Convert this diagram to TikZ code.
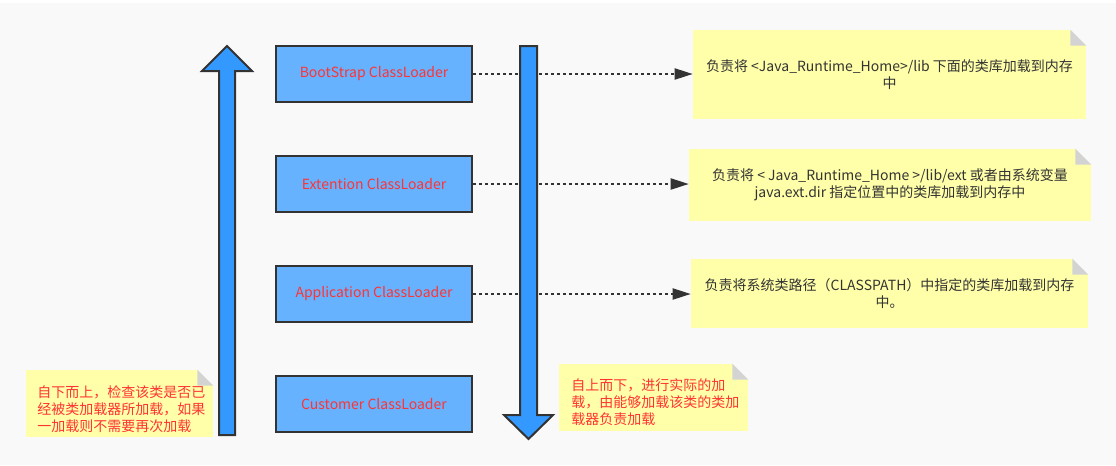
\documentclass[tikz,border=0pt]{standalone}
\usepackage{fontspec}
\setmainfont{Noto Sans CJK SC}
\usepackage{xcolor}
\usepackage{tikz}
\usetikzlibrary{positioning,arrows.meta}

\definecolor{bgcol}{HTML}{F9F9F9}
\definecolor{boxblue}{HTML}{66B2FF}
\definecolor{arrowblue}{HTML}{3399FF}
\definecolor{edgecol}{HTML}{333333}
\definecolor{txtred}{HTML}{FF3333}
\definecolor{notey}{HTML}{FFFFAA}
\definecolor{foldcol}{HTML}{D3D3D3}

\tikzset{
  loader/.style={draw=edgecol, line width=1.5pt, fill=boxblue, rectangle, minimum width=147pt, minimum height=42pt, text=txtred},
  note/.style={fill=notey, rectangle, inner sep=0pt, text=edgecol, align=center},
  notetext/.style={text=txtred, align=left, inner sep=0pt},
  link/.style={draw=edgecol, line width=1.5pt, dash pattern=on 2.25pt off 2.25pt, -{Triangle[length=13.5pt,width=8.25pt]}},
  blockarrow/.style={draw=edgecol, line width=1.5pt, fill=arrowblue, line join=miter}
}

\begin{document}
\begin{tikzpicture}[x=0.75pt, y=-0.75pt, every node/.style={font=\fontsize{10.5pt}{12.75pt}\selectfont}]
            \fill[white] (0,0) rectangle (1116,465);
            \fill[bgcol] (0,3) rectangle (1116,465);
            \useasboundingbox (0,0) rectangle (1116,465);

            \node (boot) [loader] at (374,74) {BootStrap ClassLoader};
            \node (ext) [loader, below=39pt of boot] {Extention ClassLoader};
            \node (app) [loader, below=39pt of ext] {Application ClassLoader};
            \node (cust) [loader, below=39pt of app] {Customer ClassLoader};

            \node (d1) [note, minimum width=294.75pt, minimum height=66.75pt] at (889.5,74.5) {负责将 <Java\_Runtime\_Home>/lib 下面的类库加载到内存\\中};
            \node (d2) [note, minimum width=301.5pt, minimum height=54pt] at (890,185) {负责将 < Java\_Runtime\_Home >/lib/ext 或者由系统变量\\java.ext.dir 指定位置中的类库加载到内存中};
            \node (d3) [note, minimum width=297.75pt, minimum height=51.75pt] at (889.5,293.5) {负责将系统类路径（CLASSPATH）中指定的类库加载到内存\\中。};

            \node (upnote) [note, minimum width=140.25pt, minimum height=50.25pt] at (119.5,403.5) {};
            \node (uptext) [notetext, anchor=west] at (37,409) {自下而上，检查该类是否已\\经被类加载器所加载，如果\\一加载则不需要再次加载};
            \node (downnote) [note, minimum width=141.75pt, minimum height=50.25pt] at (653.5,397.5) {};
            \node (downtext) [notetext, anchor=west] at (571,402) {自上而下，进行实际的加\\载，由能够加载该类的类加\\载器负责加载};

            \draw[link] (boot.east) -- (boot.east -| d1.west);
            \draw[link] (ext.east) -- (ext.east -| d2.west);
            \draw[link] (app.east) -- (app.east -| d3.west);

            \draw[blockarrow] (219,435) -- (219,71) -- (202,71) -- (227,46) -- (252,71) -- (235,71) -- (235,435) -- cycle;
            \draw[blockarrow] (520,46) -- (520,415) -- (504,415) -- (528.5,439) -- (553,415) -- (537,415) -- (537,46) -- cycle;

            \foreach \n in {d1,d2,d3,upnote,downnote} {
                \fill[bgcol] (\n.north east) -- ([xshift=-12pt]\n.north east) -- ([yshift=-12pt]\n.north east) -- cycle;
                \fill[foldcol] ([xshift=-12pt]\n.north east) -- ([xshift=-12pt,yshift=-12pt]\n.north east) -- ([yshift=-12pt]\n.north east) -- cycle;
            }
        \end{tikzpicture}
\end{document}
